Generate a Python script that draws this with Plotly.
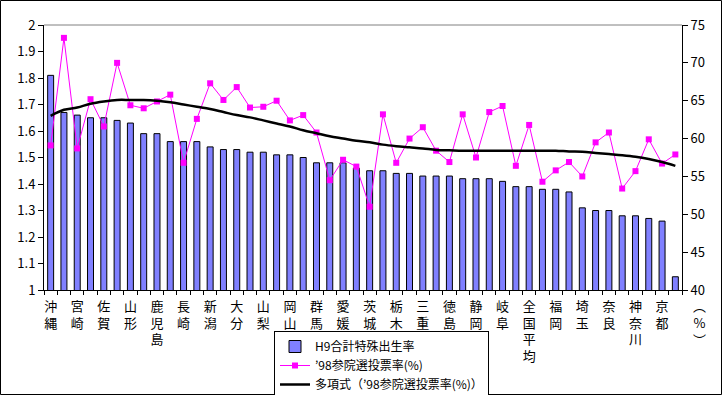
import plotly.graph_objects as go

# Categories (sorted by H9 total fertility rate)
prefectures = ["沖縄", "島根", "宮崎", "福島", "佐賀", "鳥取", "山形", "熊本", "鹿児島", "福井",
               "長崎", "岩手", "新潟", "長野", "大分", "香川", "山梨", "滋賀", "岡山", "青森",
               "群馬", "富山", "愛媛", "山口", "茨城", "石川", "栃木", "秋田", "三重", "広島",
               "徳島", "和歌山", "静岡", "愛知", "岐阜", "宮城", "全国平均", "兵庫", "福岡", "高知",
               "埼玉", "千葉", "奈良", "大阪", "神奈川", "北海道", "京都", "東京"]

# H9 合計特殊出生率 (left axis)
tfr_h9 = [1.81, 1.67, 1.66, 1.65, 1.65, 1.64, 1.63, 1.59, 1.59, 1.56,
          1.56, 1.56, 1.54, 1.53, 1.53, 1.52, 1.52, 1.51, 1.51, 1.50,
          1.48, 1.48, 1.48, 1.46, 1.45, 1.45, 1.44, 1.44, 1.43, 1.43,
          1.43, 1.42, 1.42, 1.42, 1.41, 1.39, 1.39, 1.38, 1.38, 1.37,
          1.31, 1.30, 1.30, 1.28, 1.28, 1.27, 1.26, 1.05]

# '98 参院選投票率 (%) (right axis)
turnout_98 = [59.1, 73.3, 58.7, 65.2, 61.6, 70.0, 64.4, 64.0, 64.9, 65.8,
              56.8, 62.6, 67.3, 65.1, 66.8, 64.1, 64.2, 65.0, 62.4, 63.1,
              60.8, 54.5, 57.2, 56.3, 51.0, 63.2, 56.8, 60.0, 61.5, 58.4,
              56.9, 63.2, 57.5, 63.5, 64.3, 56.4, 61.8, 54.3, 55.8, 56.9,
              55.0, 59.5, 60.8, 53.4, 55.7, 59.9, 56.7, 57.9]

# 多項式トレンドライン
trend_98 = [63.0, 63.8, 64.1, 64.6, 64.9, 65.1, 65.1, 65.1, 65.0, 64.8,
            64.5, 64.2, 63.9, 63.5, 63.1, 62.8, 62.4, 62.0, 61.6, 61.1,
            60.7, 60.3, 60.0, 59.7, 59.5, 59.2, 59.0, 58.85, 58.7, 58.5,
            58.45, 58.4, 58.4, 58.4, 58.4, 58.4, 58.4, 58.4, 58.4, 58.3,
            58.25, 58.1, 57.95, 57.8, 57.6, 57.3, 56.9, 56.4]

left_ticks = [1.0, 1.1, 1.2, 1.3, 1.4, 1.5, 1.6, 1.7, 1.8, 1.9, 2.0]
left_ticktext = ["1", "1.1", "1.2", "1.3", "1.4", "1.5", "1.6", "1.7", "1.8", "1.9", "2"]
right_ticks = [40, 45, 50, 55, 60, 65, 70, 75]

# vertical category labels, every other category
tick_text = ["<br>".join(n) if i % 2 == 0 else "" for i, n in enumerate(prefectures)]

FONT = "Noto Sans CJK JP"

fig = go.Figure()
fig.add_trace(go.Bar(
    x=prefectures, y=tfr_h9, name="H9合計特殊出生率",
    marker=dict(color="#8080FF", line=dict(color="black", width=1)),
    width=0.45, yaxis="y",
))
fig.add_trace(go.Scatter(
    x=prefectures, y=turnout_98, name="’98参院選投票率(%)",
    mode="lines+markers",
    line=dict(color="#FF00FF", width=1),
    marker=dict(symbol="square", size=6, color="#FF00FF"),
    yaxis="y2",
))
fig.add_trace(go.Scatter(
    x=prefectures, y=trend_98, name="多項式（’98参院選投票率(%)）",
    mode="lines", line=dict(color="black", width=2.5, shape="spline"),
    yaxis="y2",
))

W, H = 722, 395
L, R, T, B = 44, 40, 25, 105
pw, ph = W - L - R, H - T - B

def px_x(x):
    return (x - L) / pw

def px_y(y):
    return (H - B - y) / ph

fig.update_layout(
    width=W, height=H,
    margin=dict(l=L, r=R, t=T, b=B, autoexpand=False),
    paper_bgcolor="white", plot_bgcolor="white",
    font=dict(family=FONT, size=12, color="black"),
    showlegend=True,
    legend=dict(
        x=px_x(274), y=px_y(331), xanchor="left", yanchor="top",
        bgcolor="white", bordercolor="black", borderwidth=1,
        font=dict(family=FONT, size=12, color="black"),
        tracegroupgap=0, itemwidth=30,
    ),
    xaxis=dict(
        type="category", tickmode="array", tickvals=prefectures, ticktext=tick_text,
        tickangle=0, tickson="boundaries", ticks="outside", ticklen=4,
        tickcolor="black", showline=True, linecolor="black", linewidth=1,
        showgrid=False, tickfont=dict(family=FONT, size=13, color="black"),
        ticklabelstandoff=4,
        range=[-0.5, len(prefectures) - 0.5], automargin=False,
    ),
    yaxis=dict(
        range=[1, 2], tickvals=left_ticks, ticktext=left_ticktext,
        ticks="outside", ticklen=5, tickcolor="black",
        showline=True, linecolor="black", linewidth=1, showgrid=False, zeroline=False,
        tickfont=dict(family=FONT, size=13, color="black"), automargin=False,
    ),
    yaxis2=dict(
        range=[40, 75], tickvals=right_ticks, overlaying="y", side="right",
        ticks="outside", ticklen=5, tickcolor="black",
        showline=True, linecolor="black", linewidth=1, showgrid=False, zeroline=False,
        tickfont=dict(family=FONT, size=13, color="black"), automargin=False,
    ),
    shapes=[
        dict(type="line", xref="paper", yref="paper", x0=0, x1=1, y0=1, y1=1,
             line=dict(color="#808080", width=1)),
        dict(type="rect", xref="paper", yref="paper",
             x0=px_x(0.5), x1=px_x(721.5), y0=px_y(394.5), y1=px_y(0.5),
             line=dict(color="black", width=1)),
    ],
    annotations=[
        dict(text="︵<br>%<br>︶", xref="paper", yref="paper",
             x=px_x(699), y=px_y(322), xanchor="center", yanchor="middle",
             showarrow=False, font=dict(family=FONT, size=13, color="black")),
    ],
)

fig.write_html("out.html", config={"displayModeBar": False},
               post_script="document.body.style.margin='0';document.body.style.overflow='hidden';")
